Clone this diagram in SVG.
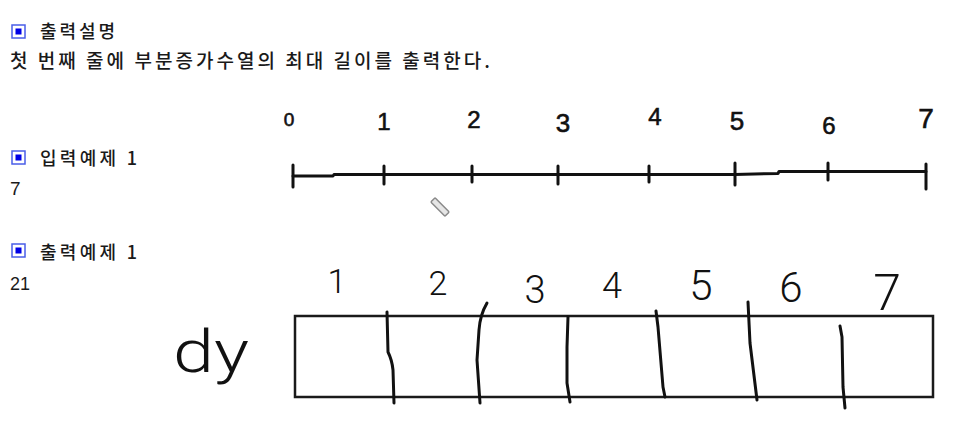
<svg xmlns="http://www.w3.org/2000/svg" width="955" height="440" viewBox="0 0 955 440">
<style>
.kr{font-family:"Noto Sans CJK KR","Noto Sans",sans-serif;fill:#1a1a1a;font-weight:500}
.num{font-family:"Liberation Sans",Arial,sans-serif;fill:#1a1a1a}
.hw{font-family:"Liberation Sans",Arial,sans-serif;fill:#111;stroke:#111;stroke-width:0.6;text-anchor:middle}
.hwl{font-family:Roboto,"Liberation Sans",Arial,sans-serif;font-weight:300;fill:#111;text-anchor:middle}
.ink{fill:none;stroke:#111;stroke-width:3;stroke-linecap:round;stroke-linejoin:round}
.icoO{fill:#fff;stroke:#4a5ee8;stroke-width:1.5}
.icoI{fill:#0000e6}
</style>
<defs>
<g id="icon"><rect class="icoO" x="0" y="0" width="13" height="13"/><rect class="icoI" x="3.5" y="3.5" width="6" height="6"/></g>
</defs>
<rect width="955" height="440" fill="#fff"/>

<g id="section-output-desc">
<use href="#icon" x="12" y="25"/>
<text class="kr" x="40" y="38" font-size="18" textLength="75" lengthAdjust="spacing">출력설명</text>
<text class="kr" x="10" y="68" font-size="19" textLength="480" lengthAdjust="spacing">첫 번째 줄에 부분증가수열의 최대 길이를 출력한다.</text>
</g>

<g id="section-input-example">
<use href="#icon" x="12" y="151"/>
<text class="kr" x="40" y="165" font-size="18" textLength="97" lengthAdjust="spacing">입력예제 1</text>
<text class="num" x="10" y="195" font-size="19">7</text>
</g>

<g id="section-output-example">
<use href="#icon" x="12" y="244"/>
<text class="kr" x="40" y="259" font-size="18" textLength="97" lengthAdjust="spacing">출력예제 1</text>
<text class="num" x="10" y="290" font-size="18">21</text>
</g>

<g id="number-line">
<path class="ink" d="M293,176 L333,176 L334,174.5 L735,174.5 L778,173.5 L779,171.5 L926,171.5"/>
<path class="ink" d="M293,165 L293,187 M384,166 L384,184 M472,166 L472,182 M558,166 L558,184 M649,166 L649,182 M735,163 L735,185 M828,163 L828,180 M926,164 L926,189"/>
<text class="hw" x="289" y="126" font-size="19">0</text>
<text class="hw" x="384" y="130" font-size="24">1</text>
<text class="hw" x="474" y="128" font-size="24">2</text>
<text class="hw" x="563" y="132" font-size="26">3</text>
<text class="hw" x="655" y="125" font-size="24">4</text>
<text class="hw" x="737" y="130" font-size="26">5</text>
<text class="hw" x="829" y="134" font-size="24">6</text>
<text class="hw" x="926" y="128" font-size="28">7</text>
</g>

<g id="pencil-cursor">
<rect x="430" y="204" width="20" height="6" rx="1" transform="rotate(45 440 207)" fill="#e6e6e6" stroke="#8a8a8a" stroke-width="1.5"/>
</g>

<g id="dy-array">
<text class="hwl" x="211" y="372" font-size="60" textLength="76" lengthAdjust="spacingAndGlyphs">dy</text>
<rect x="295" y="316" width="638" height="81" fill="none" stroke="#1a1a1a" stroke-width="2.5"/>
<path class="ink" d="M387,312 L388,352 Q392,360 393,370 L394,403"/>
<path class="ink" d="M487,303 Q480,315 479,330 L477,360 L480,403"/>
<path class="ink" d="M568,317 L567,347 L567,383 L570,402"/>
<path class="ink" d="M656,311 L658,327 L663,387 L665,397"/>
<path class="ink" d="M748,302 L750,343 L757,400"/>
<path class="ink" d="M840,326 L842,337 L843,387 L845,408"/>
<text class="hwl" x="337" y="293" font-size="34">1</text>
<text class="hwl" x="438" y="295" font-size="34">2</text>
<text class="hwl" x="535" y="303" font-size="38">3</text>
<text class="hwl" x="612" y="298" font-size="36">4</text>
<text class="hwl" x="701" y="300" font-size="42">5</text>
<text class="hwl" x="791" y="302" font-size="42">6</text>
<text class="hwl" x="887" y="310" font-size="50">7</text>
</g>
</svg>
